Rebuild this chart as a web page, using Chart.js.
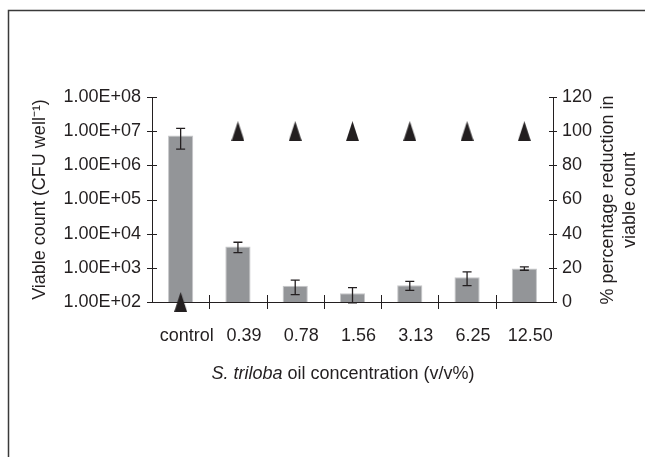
<!DOCTYPE html>
<html>
<head>
<meta charset="utf-8">
<script src="https://cdn.jsdelivr.net/npm/chart.js@4"></script>
<style>
html, body { margin: 0; padding: 0; background: #fff; }
#wrap { width: 645px; height: 457px; position: relative; }
</style>
</head>
<body>
<div id="wrap"><canvas id="chart" width="645" height="457"></canvas></div>
<script>
var categories = ['control', '0.39', '0.78', '1.56', '3.13', '6.25', '12.50'];
var viableCount = [7.5e6, 4.2e3, 300, 180, 310, 530, 960];
var viableError = [4.5e6, 1.4e3, 135, 85, 90, 230, 110];
var reduction = [0, 99.94, 100, 100, 100, 99.99, 99.99];
var logTicks = [1e2, 1e3, 1e4, 1e5, 1e6, 1e7, 1e8];
var logTickLabels = ['1.00E+02', '1.00E+03', '1.00E+04', '1.00E+05', '1.00E+06', '1.00E+07', '1.00E+08'];

var ink = '#231f20';
var fontFamily = '"Liberation Sans", Arial, sans-serif';
var fontSize = 18;
Chart.defaults.font.family = fontFamily;
Chart.defaults.font.size = fontSize;
Chart.defaults.color = ink;

// tall black triangle marker
var tri = document.createElement('canvas');
tri.width = 13; tri.height = 20;
var tc = tri.getContext('2d');
tc.fillStyle = ink;
tc.beginPath();
tc.moveTo(6.5, 0); tc.lineTo(13, 20); tc.lineTo(0, 20);
tc.closePath();
tc.fill();

var decor = {
    id: 'decor',
    beforeDraw: function (chart) {
        var ctx = chart.ctx;
        ctx.save();
        ctx.strokeStyle = '#3a3a3a';
        ctx.lineWidth = 1.5;
        ctx.beginPath();
        ctx.moveTo(8.5, 457);
        ctx.lineTo(8.5, 10.5);
        ctx.lineTo(645, 10.5);
        ctx.stroke();
        ctx.restore();
    },
    afterDatasetDraw: function (chart, args) {
        if (args.index !== 0) return;
        var ctx = chart.ctx, y = chart.scales.y;
        var meta = chart.getDatasetMeta(0);
        ctx.save();
        ctx.strokeStyle = ink;
        ctx.lineWidth = 1.3;
        meta.data.forEach(function (bar, i) {
            var top = y.getPixelForValue(viableCount[i] + viableError[i]);
            var bot = y.getPixelForValue(Math.max(viableCount[i] - viableError[i], 1));
            ctx.beginPath();
            ctx.moveTo(bar.x, top); ctx.lineTo(bar.x, bot);
            ctx.moveTo(bar.x - 4.5, top); ctx.lineTo(bar.x + 4.5, top);
            ctx.moveTo(bar.x - 4.5, bot); ctx.lineTo(bar.x + 4.5, bot);
            ctx.stroke();
        });
        ctx.restore();
    },
    afterDraw: function (chart) {
        var ctx = chart.ctx, a = chart.chartArea;
        var y = chart.scales.y, y2 = chart.scales.y2;
        ctx.save();
        ctx.strokeStyle = ink;
        ctx.lineWidth = 1;
        ctx.beginPath();
        logTicks.forEach(function (v) {
            var p = Math.round(y.getPixelForValue(v)) + 0.5;
            ctx.moveTo(a.left - 5, p); ctx.lineTo(a.left + 5, p);
        });
        y2.ticks.forEach(function (t) {
            var p = Math.round(y2.getPixelForValue(t.value)) + 0.5;
            ctx.moveTo(a.right - 4, p); ctx.lineTo(a.right + 4, p);
        });
        var step = (a.right - a.left) / categories.length;
        for (var i = 1; i < categories.length; i++) {
            var x = Math.round(a.left + i * step) + 0.5;
            ctx.moveTo(x, a.bottom - 7); ctx.lineTo(x, a.bottom + 7);
        }
        ctx.stroke();

        // right axis title, reading bottom to top
        var f = fontSize + 'px ' + fontFamily;
        ctx.fillStyle = ink;
        ctx.font = f;
        ctx.textAlign = 'center';
        ctx.textBaseline = 'middle';
        ctx.save();
        ctx.translate(608, 200);
        ctx.rotate(-Math.PI / 2);
        ctx.fillText('% percentage reduction in', 0, 0);
        ctx.fillText('viable count', 0, 22);
        ctx.restore();

        // x axis title with italic species name
        var p1 = 'S. triloba', p2 = ' oil concentration (v/v%)';
        ctx.font = 'italic ' + f;
        var w1 = ctx.measureText(p1).width;
        ctx.font = f;
        var w2 = ctx.measureText(p2).width;
        var sx = 343 - (w1 + w2) / 2;
        ctx.textAlign = 'left';
        ctx.font = 'italic ' + f;
        ctx.fillText(p1, sx, 374);
        ctx.font = f;
        ctx.fillText(p2, sx + w1, 374);
        ctx.restore();
    }
};

var ctx = document.getElementById('chart').getContext('2d');
new Chart(ctx, {
    data: {
        labels: categories,
        datasets: [{
            type: 'bar',
            data: viableCount,
            yAxisID: 'y',
            backgroundColor: '#939598',
            borderColor: '#c6c7c9',
            borderWidth: 1,
            barPercentage: 0.44,
            categoryPercentage: 1,
            order: 2
        }, {
            type: 'line',
            data: reduction,
            yAxisID: 'y2',
            showLine: false,
            pointStyle: tri,
            pointRadius: 10,
            clip: false,
            order: 1
        }]
    },
    options: {
        responsive: false,
        animation: false,
        layout: { padding: { top: 97, left: 0, right: 0, bottom: 0 } },
        plugins: { legend: { display: false }, tooltip: { enabled: false } },
        scales: {
            x: {
                offset: true,
                grid: { display: false, drawTicks: false },
                border: { color: ink, width: 1 },
                ticks: { padding: 23, labelOffset: 6, maxRotation: 0, autoSkip: false },
                afterFit: function (s) { s.height = 155; }
            },
            y: {
                type: 'logarithmic',
                position: 'left',
                min: 100,
                max: 1e8,
                grid: { display: false, drawTicks: false },
                border: { color: ink, width: 1 },
                afterBuildTicks: function (s) {
                    s.ticks = logTicks.map(function (v) { return { value: v }; });
                },
                ticks: {
                    padding: 11,
                    callback: function (v) { return logTickLabels[logTicks.indexOf(v)]; }
                },
                title: { display: true, text: 'Viable count (CFU well\u207B\u00B9)', padding: { top: 29, bottom: 0 } },
                afterFit: function (s) { s.width = 152; }
            },
            y2: {
                type: 'linear',
                position: 'right',
                min: 0,
                max: 120,
                grid: { display: false, drawTicks: false },
                border: { color: ink, width: 1 },
                ticks: { stepSize: 20, padding: 9 },
                afterFit: function (s) { s.width = 92; }
            }
        }
    },
    plugins: [decor]
});
</script>
</body>
</html>
